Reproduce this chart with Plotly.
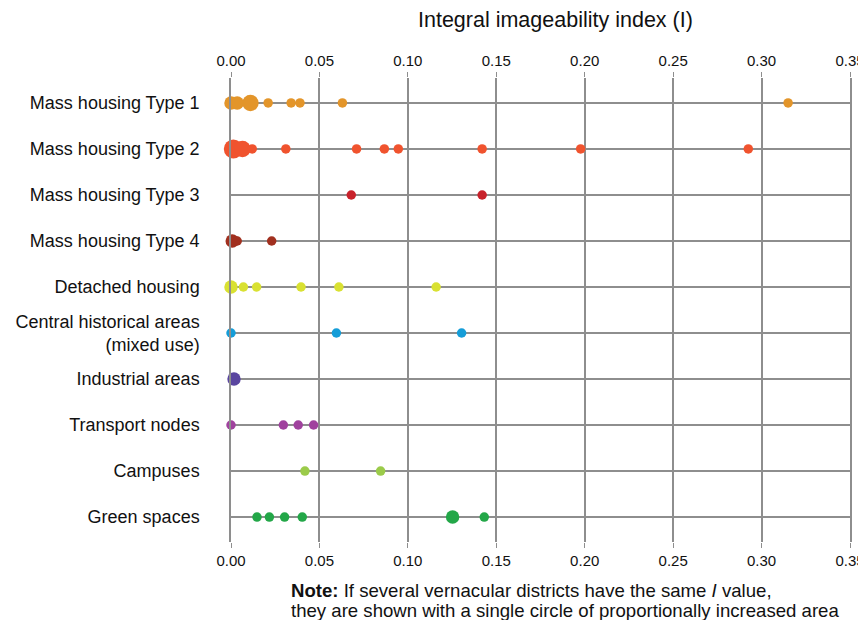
import plotly.graph_objects as go
import math

categories = [
    "Mass housing Type 1",
    "Mass housing Type 2",
    "Mass housing Type 3",
    "Mass housing Type 4",
    "Detached housing",
    "Central historical areas<br>(mixed use)",
    "Industrial areas",
    "Transport nodes",
    "Campuses",
    "Green spaces",
]

colors = ["#E3952A", "#F0532E", "#C8222B", "#A1301F", "#D9E132",
          "#159DD8", "#5A46A0", "#A0429E", "#9BCB4A", "#23A748"]

# Integral imageability index values per category
type1_vals = [0.000, 0.0035, 0.011, 0.021, 0.034, 0.039, 0.063, 0.315]
type1_cnt = [2, 2, 3, 1, 1, 1, 1, 1]
type2_vals = [0.0013, 0.0065, 0.012, 0.031, 0.071, 0.0867, 0.0946, 0.142, 0.1977, 0.2925]
type2_cnt = [4, 3, 1, 1, 1, 1, 1, 1, 1, 1]
type3_vals = [0.068, 0.142]
type3_cnt = [1, 1]
type4_vals = [0.0007, 0.0035, 0.023]
type4_cnt = [2, 1, 1]
detached_vals = [0.000, 0.007, 0.0145, 0.0396, 0.061, 0.116]
detached_cnt = [2, 1, 1, 1, 1, 1]
central_vals = [0.000, 0.0596, 0.1304]
central_cnt = [1, 1, 1]
industrial_vals = [0.0017]
industrial_cnt = [2]
transport_vals = [0.000, 0.0296, 0.038, 0.0467]
transport_cnt = [1, 1, 1, 1]
campus_vals = [0.0418, 0.0846]
campus_cnt = [1, 1]
green_vals = [0.0147, 0.0217, 0.0303, 0.0403, 0.1253, 0.1432]
green_cnt = [1, 1, 1, 1, 2, 1]

series_vals = [type1_vals, type2_vals, type3_vals, type4_vals, detached_vals,
               central_vals, industrial_vals, transport_vals, campus_vals, green_vals]
series_cnt = [type1_cnt, type2_cnt, type3_cnt, type4_cnt, detached_cnt,
              central_cnt, industrial_cnt, transport_cnt, campus_cnt, green_cnt]

tick_vals = [0.00, 0.05, 0.10, 0.15, 0.20, 0.25, 0.30, 0.35]
tick_text = ["0.00", "0.05", "0.10", "0.15", "0.20", "0.25", "0.30", "0.35"]

D1 = 9.5
FONT = "Liberation Sans, Arial, Helvetica, sans-serif"
GRID = "#8e8e8e"

fig = go.Figure()
for cat, col, vals, cnts in zip(categories, colors, series_vals, series_cnt):
    order = sorted(range(len(vals)), key=lambda i: -cnts[i])
    fig.add_trace(go.Scatter(
        x=[vals[i] for i in order],
        y=[cat] * len(vals),
        mode="markers",
        marker=dict(color=col, size=[D1 * math.sqrt(cnts[i]) for i in order],
                    line=dict(width=0), opacity=1),
        cliponaxis=False,
        showlegend=False,
        hoverinfo="x+y",
    ))

fig.add_trace(go.Scatter(x=[None], y=[categories[0]], xaxis="x2", mode="markers",
                         showlegend=False, hoverinfo="skip"))

axis_common = dict(
    range=[0, 0.35],
    tickvals=tick_vals,
    ticktext=tick_text,
    showgrid=True,
    gridcolor=GRID,
    gridwidth=1.5,
    zeroline=False,
    showline=False,
    automargin=False,
    ticks="outside",
    ticklen=5,
    tickwidth=1,
    tickcolor=GRID,
    tickfont=dict(family=FONT, size=15, color="#111"),
)

# the page body adds an 8px offset, so the figure is shifted by 8px
fig.update_layout(
    width=858, height=612,
    margin=dict(l=223, r=16, t=70, b=78),
    paper_bgcolor="white",
    plot_bgcolor="white",
    font=dict(family=FONT, color="#111"),
    xaxis=dict(side="top", **axis_common),
    xaxis2=dict(side="bottom", overlaying="x", anchor="y", matches="x", **axis_common),
    yaxis=dict(
        type="category",
        categoryorder="array",
        categoryarray=categories,
        range=[9.543, -0.543],
        showgrid=True,
        gridcolor=GRID,
        gridwidth=1.5,
        zeroline=False,
        showline=True,
        mirror=True,
        linecolor=GRID,
        linewidth=1.5,
        automargin=False,
        ticks="",
        ticklabelstandoff=26,
        tickfont=dict(family=FONT, size=18, color="#111"),
    ),
    annotations=[
        dict(text="Integral imageability index (I)", xref="paper", yref="paper",
             x=0.525, y=1.125, xanchor="center", yanchor="middle", showarrow=False,
             font=dict(family=FONT, size=21.5, color="#111")),
        dict(text="<b>Note:</b> If several vernacular districts have the same <i>I</i> value,",
             xref="paper", yref="paper", x=0.0937, y=-0.1056, xanchor="left", yanchor="middle",
             align="left", showarrow=False,
             font=dict(family=FONT, size=18.6, color="#111")),
        dict(text="they are shown with a single circle of proportionally increased area",
             xref="paper", yref="paper", x=0.0937, y=-0.1487, xanchor="left", yanchor="middle",
             align="left", showarrow=False,
             font=dict(family=FONT, size=18.6, color="#111")),
    ],
)

fig.write_html("out.html")
